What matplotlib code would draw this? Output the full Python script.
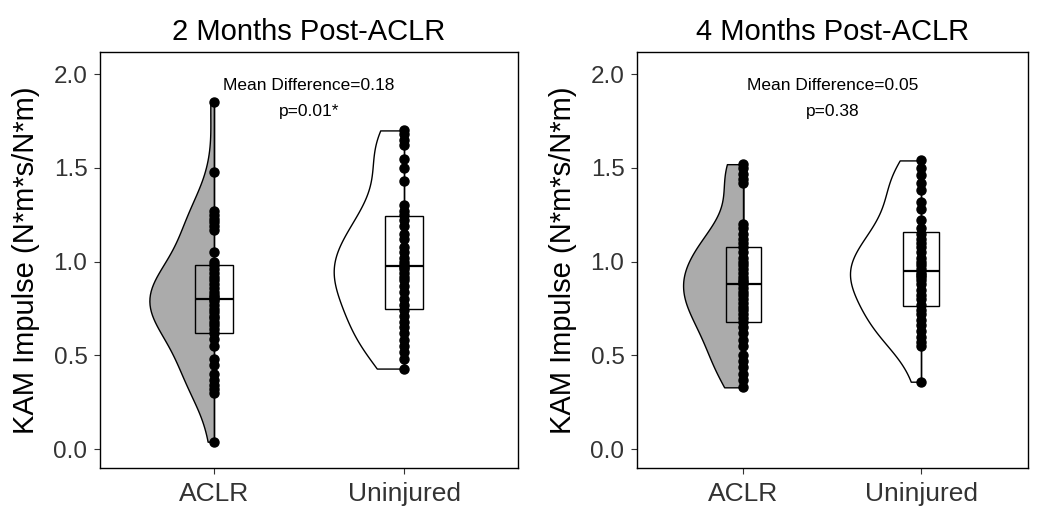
import numpy as np
import matplotlib
matplotlib.use("Agg")
import matplotlib.pyplot as plt

plt.rcParams["font.family"] = ["Liberation Sans", "DejaVu Sans"]

groups = ["ACLR", "Uninjured"]
titles = ["2 Months Post-ACLR", "4 Months Post-ACLR"]
notes = ["Mean Difference=0.18\np=0.01*", "Mean Difference=0.05\np=0.38"]

aclr_2m = [1.85, 1.48, 1.27, 1.25, 1.23, 1.21, 1.19, 1.17, 1.05, 1.00, 0.98, 0.96,
           0.94, 0.92, 0.90, 0.88, 0.86, 0.84, 0.82, 0.81, 0.80, 0.79, 0.77, 0.75,
           0.73, 0.71, 0.70, 0.68, 0.66, 0.64, 0.62, 0.59, 0.55, 0.48, 0.45, 0.40,
           0.37, 0.34, 0.32, 0.30, 0.04]
unin_2m = [1.70, 1.68, 1.65, 1.62, 1.55, 1.50, 1.43, 1.30, 1.27, 1.25, 1.22, 1.19,
           1.15, 1.12, 1.08, 1.05, 1.02, 1.00, 0.98, 0.97, 0.96, 0.94, 0.92, 0.90,
           0.87, 0.84, 0.80, 0.77, 0.74, 0.71, 0.68, 0.65, 0.62, 0.58, 0.55, 0.52,
           0.48, 0.43]
aclr_4m = [1.52, 1.50, 1.47, 1.44, 1.42, 1.20, 1.18, 1.15, 1.12, 1.10, 1.08, 1.05,
           1.02, 1.00, 0.98, 0.96, 0.94, 0.92, 0.90, 0.89, 0.88, 0.86, 0.84, 0.82,
           0.80, 0.78, 0.76, 0.74, 0.72, 0.70, 0.68, 0.65, 0.62, 0.58, 0.55, 0.50,
           0.47, 0.44, 0.40, 0.37, 0.33]
unin_4m = [1.54, 1.50, 1.46, 1.42, 1.38, 1.32, 1.28, 1.22, 1.18, 1.15, 1.12, 1.10,
           1.08, 1.05, 1.02, 1.00, 0.98, 0.96, 0.94, 0.93, 0.92, 0.90, 0.88, 0.85,
           0.82, 0.80, 0.77, 0.74, 0.72, 0.69, 0.66, 0.63, 0.60, 0.57, 0.55, 0.36]

panels = [[aclr_2m, unin_2m], [aclr_4m, unin_4m]]
fills = ["#ababab", "white"]
violin_widths = [[0.68, 0.74], [0.68, 0.80]]

fig = plt.figure(figsize=(10.39, 5.07), dpi=100)
axes = [fig.add_axes([0.0962, 0.077, 0.4024, 0.820]),
        fig.add_axes([0.613, 0.077, 0.376, 0.820])]

for k, ax in enumerate(axes):
    data = panels[k]
    for i, vals in enumerate(data):
        pos = i + 1
        vp = ax.violinplot([vals], positions=[pos], widths=violin_widths[k][i],
                           showextrema=False, side="low", bw_method=0.45)
        for body in vp["bodies"]:
            body.set_facecolor(fills[i])
            body.set_edgecolor("black")
            body.set_linewidth(1.0)
            body.set_alpha(1)
            body.set_zorder(1)
        ax.boxplot([vals], positions=[pos], widths=0.2, showfliers=False,
                   showcaps=False, whis=(0, 100), patch_artist=True,
                   boxprops=dict(facecolor="none", edgecolor="black", linewidth=1.0),
                   medianprops=dict(color="black", linewidth=1.6),
                   whiskerprops=dict(color="black", linewidth=1.0),
                   zorder=2)
        ax.plot([pos] * len(vals), vals, "o", color="black", markersize=6.5, zorder=3)

    line1, line2 = notes[k].split("\n")
    ax.text(1.5, 1.94, line1, ha="center", va="center", fontsize=12.5)
    ax.text(1.5, 1.80, line2, ha="center", va="center", fontsize=12.5)

    ax.set_xlim(0.4, 2.6)
    ax.set_ylim(-0.10, 2.117)
    ax.set_xticks([1, 2])
    ax.set_xticklabels(groups, fontsize=19)
    ax.set_yticks([0.0, 0.5, 1.0, 1.5, 2.0])
    ax.set_yticklabels(["0.0", "0.5", "1.0", "1.5", "2.0"], fontsize=17.5)
    ax.tick_params(axis="both", direction="out", length=4, width=0.8, colors="#333333",
                   labelcolor="#333333")
    ax.tick_params(axis="y", pad=5)
    ax.tick_params(axis="x", pad=6)
    for s in ax.spines.values():
        s.set_linewidth(1.0)
        s.set_color("black")
    ax.set_ylabel("KAM Impulse (N*m*s/N*m)", fontsize=21, labelpad=10)
    ax.set_title(titles[k], fontsize=21, pad=9)

fig.savefig("out.png", dpi=100)
